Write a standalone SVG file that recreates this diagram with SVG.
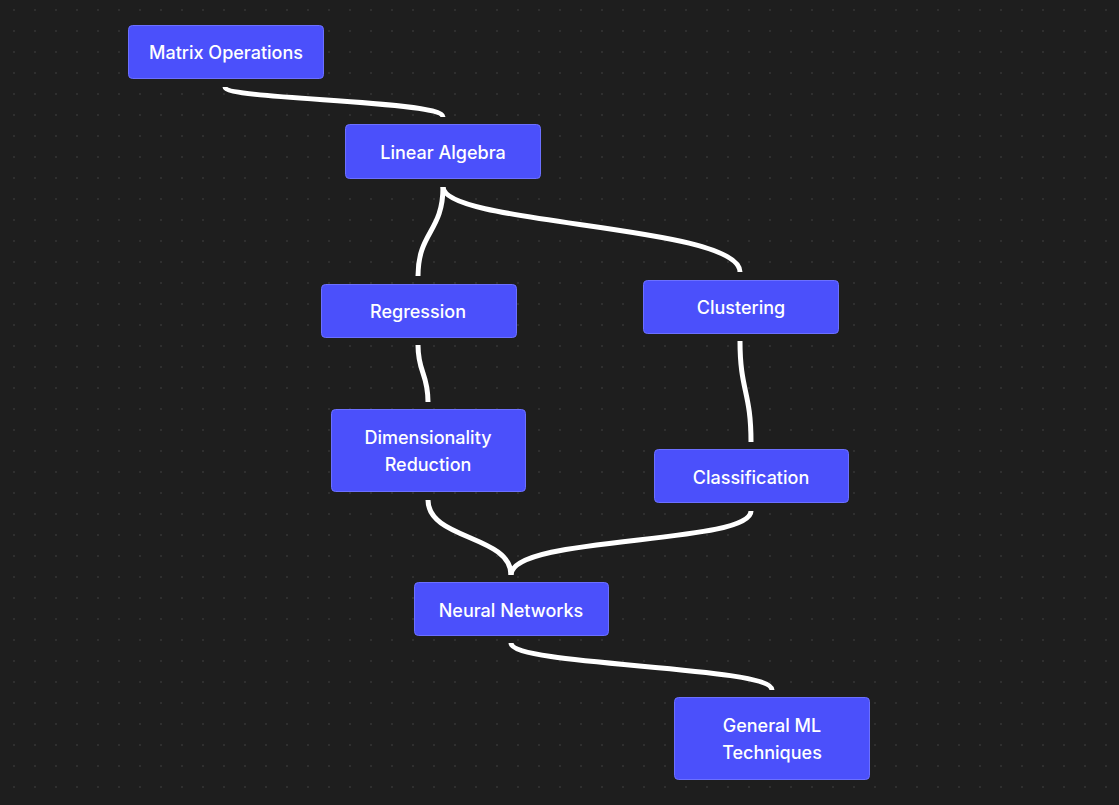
<svg xmlns="http://www.w3.org/2000/svg" width="1119" height="805" viewBox="0 0 1119 805">
<defs>
<pattern id="dots" x="0" y="0" width="21" height="21" patternUnits="userSpaceOnUse">
<rect x="13.25" y="9.25" width="1.5" height="1.5" fill="#3c3c3c"/>
</pattern>
<style>
.node rect{fill:#4b50fb;stroke:#6c70ff;stroke-width:1;}
.node text{fill:#ffffff;font-family:Inter,"Noto Sans","Liberation Sans",sans-serif;font-size:18px;font-weight:500;text-anchor:middle;dominant-baseline:central;}
#edges path{fill:none;stroke:#ffffff;stroke-width:5;stroke-linecap:butt;}
</style>
</defs>
<rect width="1119" height="805" fill="#1e1e1e"/>
<rect width="1119" height="805" fill="url(#dots)"/>
<g id="edges">
<path d="M225,87 C225,100 443,100 443,117"/>
<path d="M443,187 C443,232 418,232 418,276"/>
<path d="M443,187 C443,225 740,225 740,272"/>
<path d="M418,345 C418,373 428,373 428,402"/>
<path d="M740,341 C740,391 751,391 751,442"/>
<path d="M428,500 C428,540 511,535 511,575"/>
<path d="M751,511 C751,545 511,535 511,575"/>
<path d="M511,643 C511,666 772,666 772,690"/>
</g>
<g id="matrix" class="node"><rect x="128.5" y="25.5" width="195" height="53" rx="4"/><text x="226" y="52">Matrix Operations</text></g>
<g id="linear" class="node"><rect x="345.5" y="124.5" width="195" height="54" rx="4"/><text x="443" y="152">Linear Algebra</text></g>
<g id="regression" class="node"><rect x="321.5" y="284.5" width="195" height="53" rx="4"/><text x="418" y="311">Regression</text></g>
<g id="clustering" class="node"><rect x="643.5" y="280.5" width="195" height="53" rx="4"/><text x="741" y="307">Clustering</text></g>
<g id="dimred" class="node"><rect x="331.5" y="409.5" width="194" height="82" rx="4"/><text x="428" y="437">Dimensionality</text><text x="428" y="464">Reduction</text></g>
<g id="classification" class="node"><rect x="654.5" y="449.5" width="194" height="53" rx="4"/><text x="751" y="477">Classification</text></g>
<g id="neural" class="node"><rect x="414.5" y="582.5" width="194" height="53" rx="4"/><text x="511" y="610">Neural Networks</text></g>
<g id="general" class="node"><rect x="674.5" y="697.5" width="195" height="82" rx="4"/><text x="772" y="725">General ML</text><text x="772" y="752">Techniques</text></g>
</svg>
